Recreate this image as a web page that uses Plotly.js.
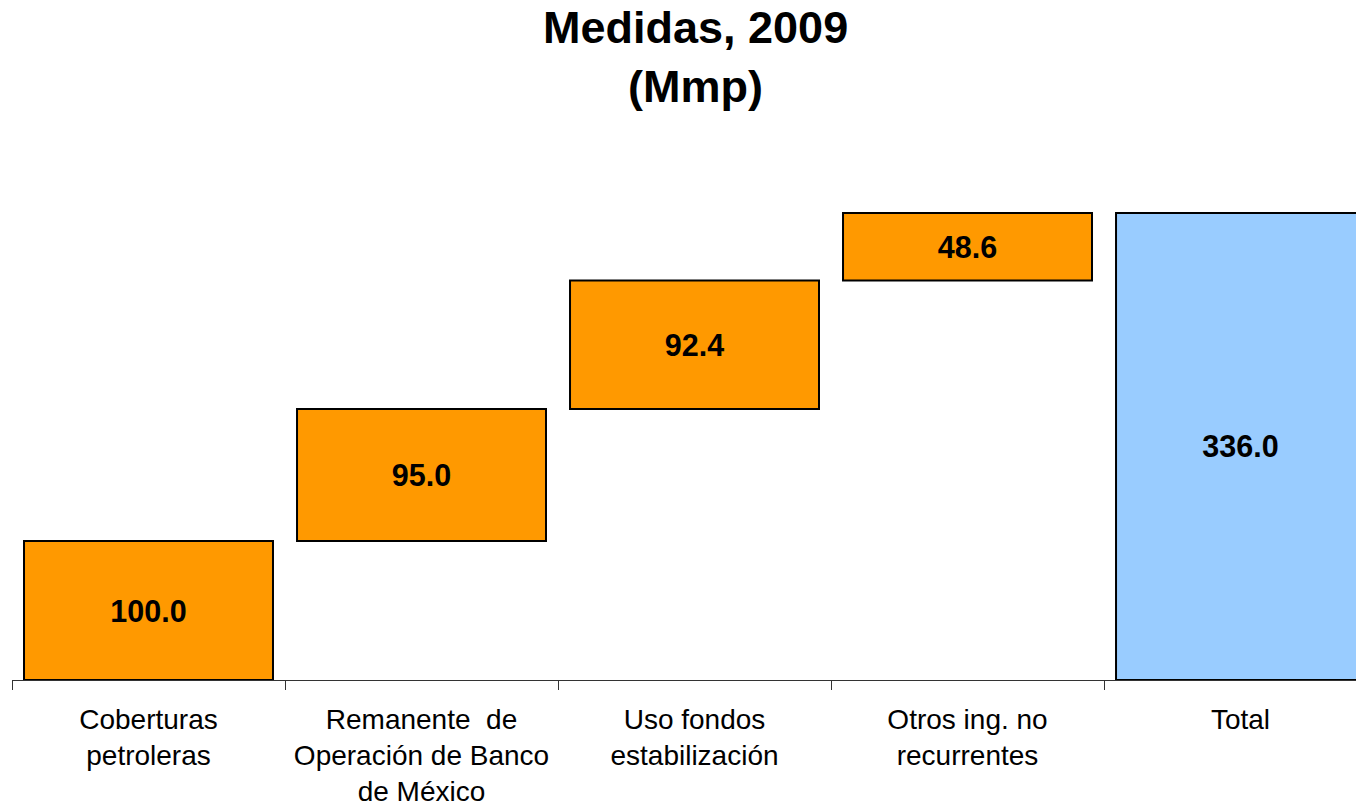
<!DOCTYPE html>
<html>
<head>
<meta charset="utf-8">
<script src="https://cdn.plot.ly/plotly-3.0.1.min.js"></script>
<style>html,body{margin:0;padding:0;background:#fff;}#chart{width:1356px;height:807px;}</style>
</head>
<body>
<div id="chart"></div>
<script>
var categories = [
  "Coberturas<br>petroleras",
  "Remanente  de<br>Operación de Banco<br>de México",
  "Uso fondos<br>estabilización",
  "Otros ing. no<br>recurrentes",
  "Total"
];
var values = [100.0, 95.0, 92.4, 48.6, 336.0];
var measures = ["relative", "relative", "relative", "relative", "total"];
var labels = values.map(function (v) { return v.toFixed(1); });
var titleText = "<b>Medidas, 2009<br>(Mmp)</b>";

var trace = {
  type: "waterfall",
  x: categories,
  y: values,
  measure: measures,
  text: labels,
  textposition: "inside",
  insidetextanchor: "middle",
  constraintext: "none",
  textfont: { family: "Liberation Sans, Arial, sans-serif", size: 30.5, color: "#000", weight: "bold" },
  width: 0.912,
  connector: { visible: false },
  increasing: { marker: { color: "#FF9900", line: { color: "#000", width: 2 } } },
  totals: { marker: { color: "#99CCFF", line: { color: "#000", width: 2 } } },
  hoverinfo: "none"
};

var layout = {
  width: 1356,
  height: 807,
  margin: { l: 12, r: 0, t: 120, b: 127 },
  paper_bgcolor: "#fff",
  plot_bgcolor: "#fff",
  showlegend: false,
  annotations: [{
    text: titleText,
    xref: "paper", yref: "paper",
    x: 0.5082, y: 1.112,
    xanchor: "center", yanchor: "middle",
    showarrow: false,
    font: { family: "Liberation Sans, Arial, sans-serif", size: 45, color: "#000" }
  }],
  xaxis: {
    type: "category",
    range: [-0.5, 4.423],
    showline: true,
    linecolor: "#333",
    linewidth: 1,
    ticks: "outside",
    tickson: "boundaries",
    ticklen: 9,
    tickcolor: "#333",
    tickwidth: 1,
    tickangle: 0,
    showgrid: false,
    zeroline: false,
    ticklabelstandoff: 14,
    tickfont: { family: "Liberation Sans, Arial, sans-serif", size: 28, color: "#000" },
    fixedrange: true
  },
  yaxis: {
    range: [0, 402.9],
    visible: false,
    showgrid: false,
    zeroline: false,
    fixedrange: true
  }
};

Plotly.newPlot("chart", [trace], layout, { displayModeBar: false, staticPlot: true });
</script>
</body>
</html>
